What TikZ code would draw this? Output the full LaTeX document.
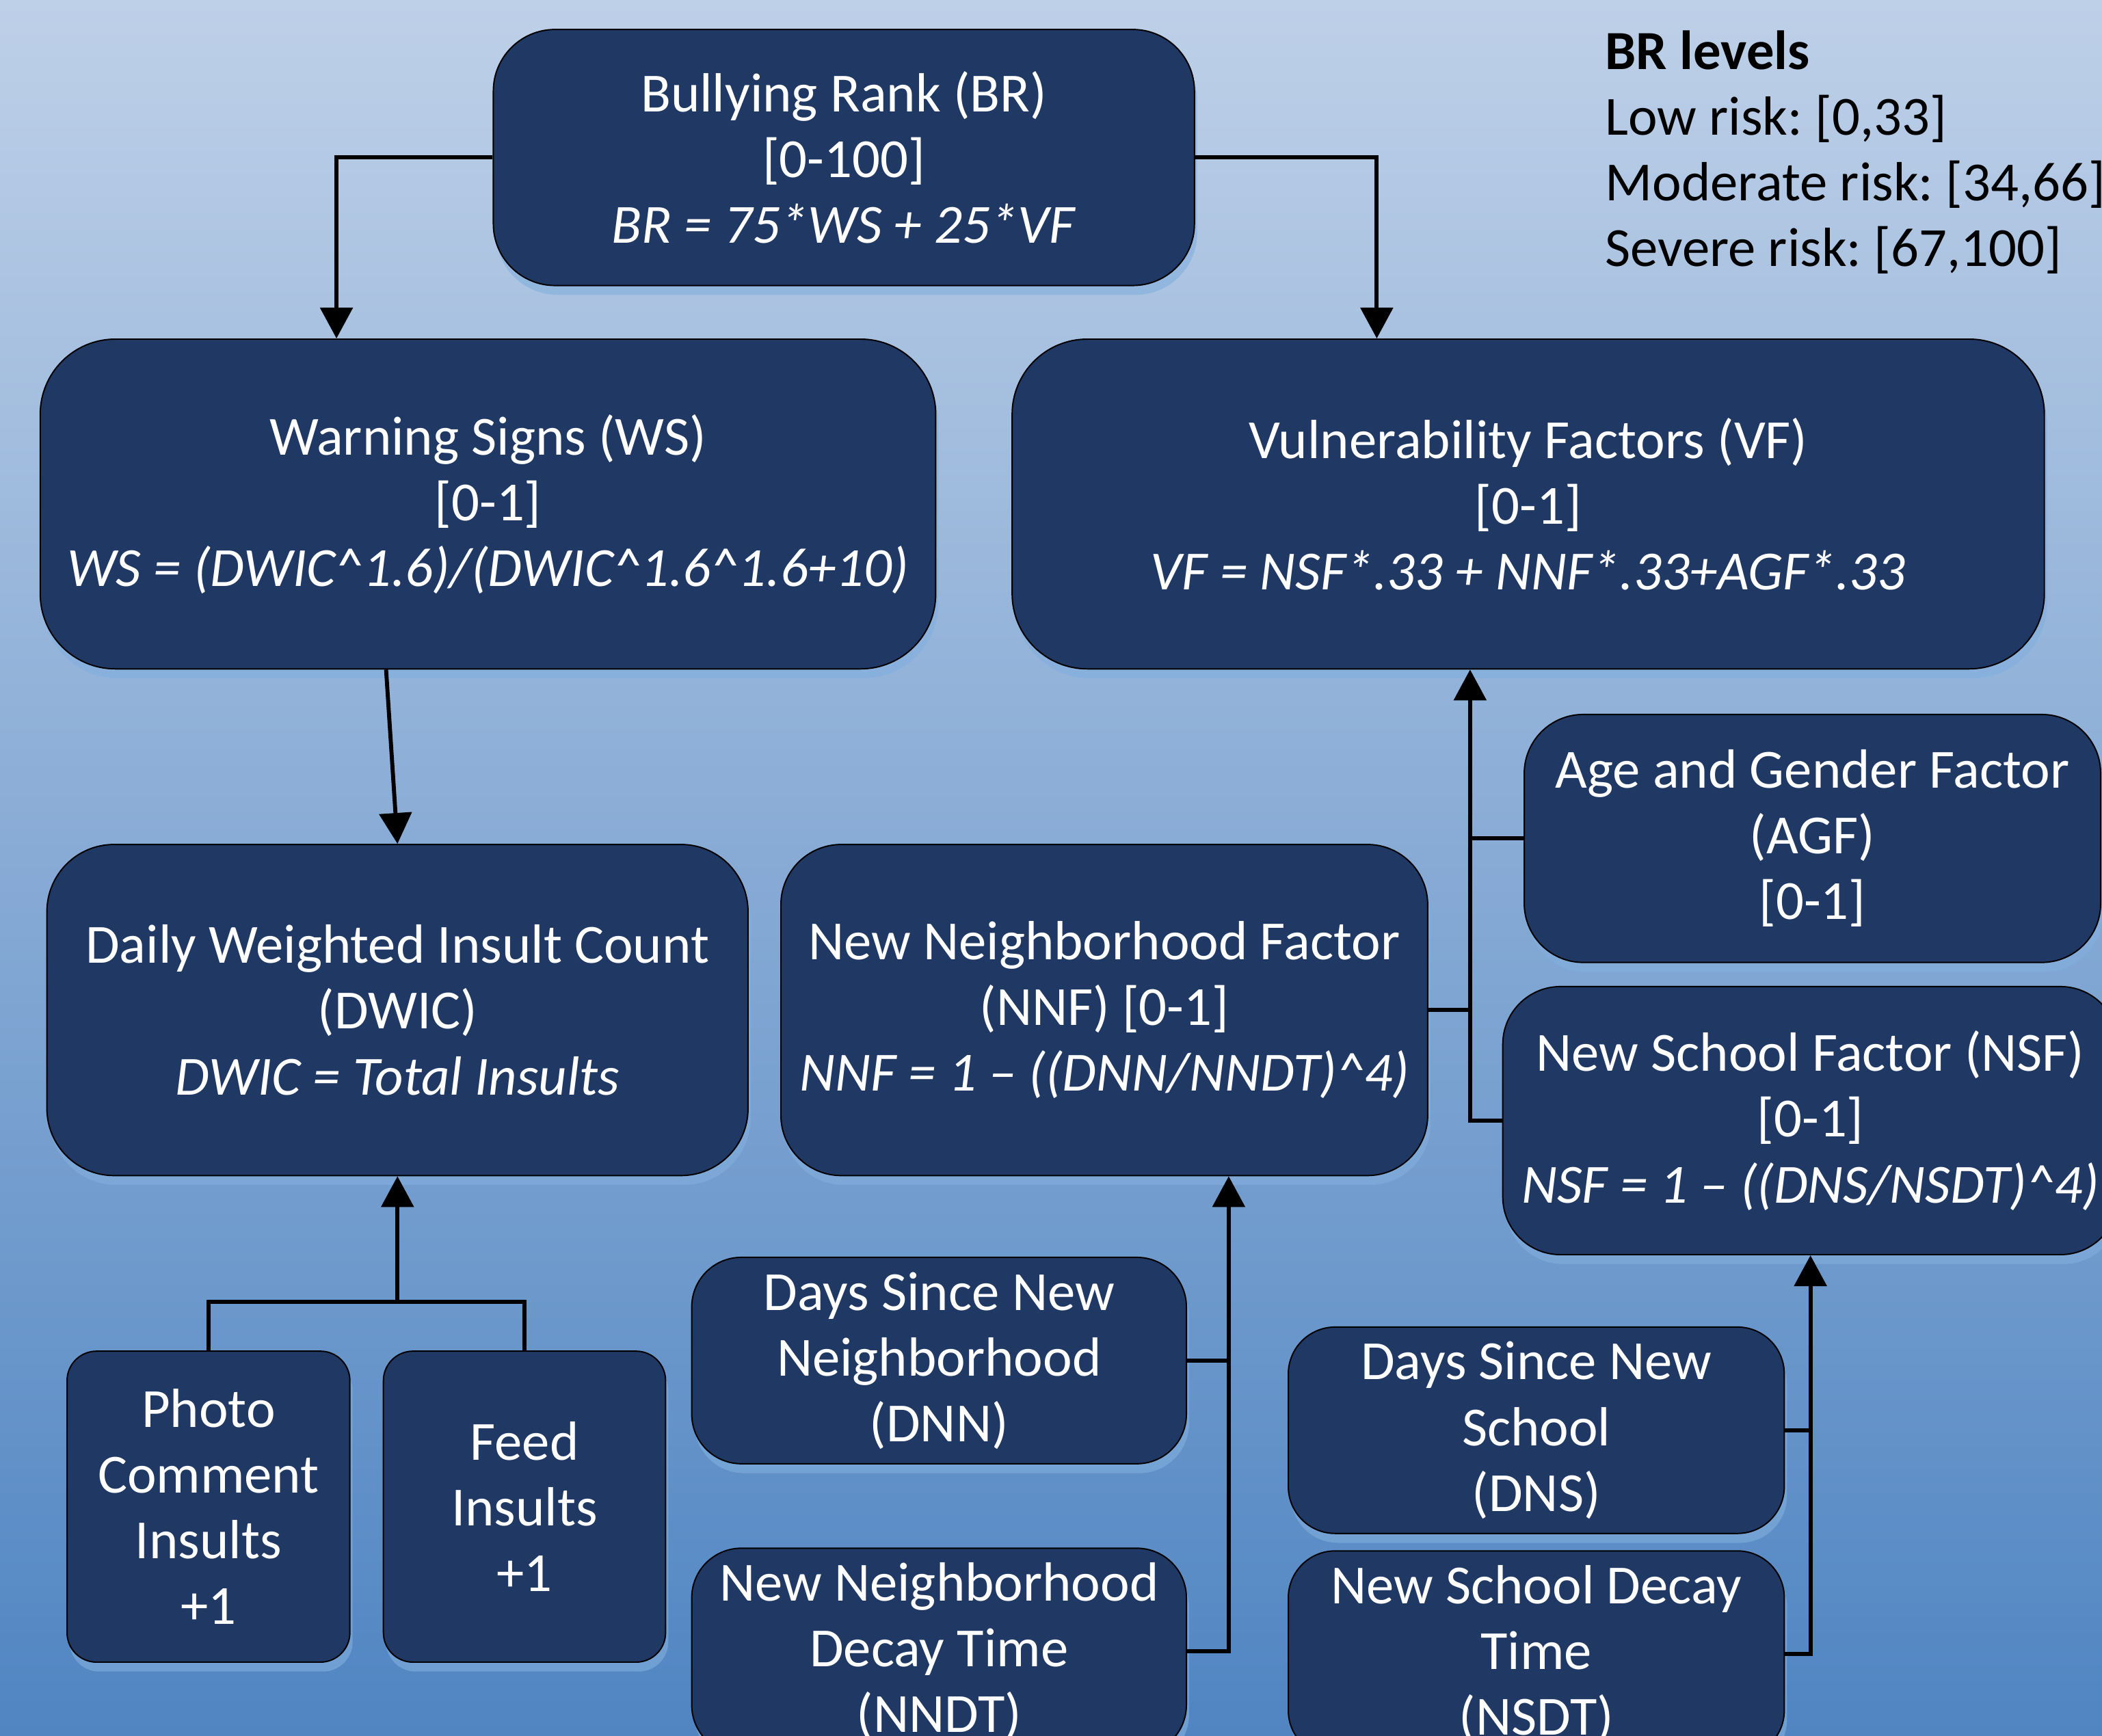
\documentclass[tikz,border=0pt]{standalone}
\usepackage{fontspec}
\setmainfont{Carlito}
\frenchspacing
\usetikzlibrary{arrows.meta,shadows}
\definecolor{boxfill}{RGB}{32,56,100}
\definecolor{bgtop}{RGB}{190,208,232}
\definecolor{bgbot}{RGB}{80,133,194}
\definecolor{shadowc}{RGB}{130,175,222}
\begin{document}
\begin{tikzpicture}[x=0.5pt,y=-0.5pt,
  box/.style={draw=black, line width=0.5pt, fill=boxfill, text=white,
    align=center, inner sep=0pt,
    font=\fontsize{20.6}{24.5}\selectfont,
    drop shadow={shadow xshift=1pt, shadow yshift=-3.5pt, fill=shadowc, opacity=0.6}},
  conn/.style={draw=black, line width=1.5pt},
  arr/.style={conn, -{Triangle[width=12pt,length=11.5pt]}},
  legend/.style={text=black, align=left, inner sep=0pt, anchor=west,
    font=\fontsize{20.6}{24.5}\selectfont}
]
\useasboundingbox (0,0) rectangle (1568,1294.6);
\clip (0,0) rectangle (1568,1294.6);
\shade[top color=bgtop, bottom color=bgbot] (0,0) rectangle (1568,1294.6);

% boxes
\node[box, minimum width=261.5pt, minimum height=95.5pt, rounded corners=23pt] (BR) at (629.5,117.5)
  {Bullying Rank (BR)\\ {[0-100]}\\ \textit{BR = 75*WS + 25*VF}};
\node[box, minimum width=334pt, minimum height=123pt, rounded corners=28pt] (WS) at (364,376)
  {Warning Signs (WS)\\ {[0-1]}\\ \textit{WS = (DWIC\textasciicircum 1.6)/(DWIC\textasciicircum 1.6\textasciicircum 1.6+10)}};
\node[box, minimum width=385pt, minimum height=123pt, rounded corners=28pt] (VF) at (1140,376)
  {Vulnerability Factors (VF)\\ {[0-1]}\\ \textit{VF = NSF*.33 + NNF*.33+AGF*.33}};
\node[box, minimum width=261.5pt, minimum height=123.5pt, rounded corners=25pt] (DWIC) at (296.5,753.5)
  {Daily Weighted Insult Count\\ (DWIC)\\ \textit{DWIC = Total Insults}};
\node[box, minimum width=241.25pt, minimum height=123.5pt, rounded corners=22.5pt] (NNF) at (823.75,753.5)
  {New Neighborhood Factor\\ (NNF) [0-1]\\ \textit{NNF = 1 – ((DNN/NNDT)\textasciicircum 4)}};
\node[box, minimum width=215pt, minimum height=92.5pt, rounded corners=22pt] (AGF) at (1352,625.5)
  {Age and Gender Factor\\ (AGF)\\ {[0-1]}};
\node[box, minimum width=229.5pt, minimum height=100pt, rounded corners=21.5pt] (NSF) at (1350.5,836)
  {New School Factor (NSF)\\ {[0-1]}\\ \textit{NSF = 1 – ((DNS/NSDT)\textasciicircum 4)}};
\node[box, minimum width=105.5pt, minimum height=116pt, rounded corners=11pt] (Photo) at (155.5,1124)
  {Photo\\ Comment\\ Insults\\ +1};
\node[box, minimum width=105.25pt, minimum height=116pt, rounded corners=11pt] (Feed) at (391.25,1124)
  {Feed\\ Insults\\ +1};
\node[box, minimum width=184.5pt, minimum height=77pt, rounded corners=18.5pt] (DNN) at (700.5,1015)
  {Days Since New\\ Neighborhood\\ (DNN)};
\node[box, minimum width=184.5pt, minimum height=77pt, rounded corners=18.5pt] (NNDT) at (700.5,1232)
  {New Neighborhood\\ Decay Time\\ (NNDT)};
\node[box, minimum width=185pt, minimum height=77pt, rounded corners=17.5pt] (DNS) at (1146,1067)
  {Days Since New\\ School\\ (DNS)};
\node[box, minimum width=185pt, minimum height=77pt, rounded corners=17.5pt] (NSDT) at (1146,1234)
  {New School Decay\\ Time\\ (NSDT)};

% legend
\node[legend] (lev) at (1197,113.5)
  {\textbf{BR levels}\\ Low risk: [0,33]\\ Moderate risk: [34,66]\\ Severe risk: [67,100]};

% connectors
\draw[arr] (BR.west) -| ([xshift=-56.5pt]WS.north);
\draw[arr] (BR.east) -| ([xshift=-56.5pt]VF.north);
\draw[arr] ([xshift=-38pt]WS.south) -- (DWIC.north);

\coordinate (j1) at (296.5,971);
\draw[conn] (Photo.north) |- (j1) -| (Feed.north);
\draw[arr] (j1) -- (DWIC.south);

\coordinate (nnfin) at ([xshift=46.4pt]NNF.south);
\draw[conn] (DNN.east) -- (DNN.east -| nnfin);
\draw[arr] (NNDT.east) -| (nnfin);

\draw[conn] (DNS.east) -- (DNS.east -| NSF.south);
\draw[arr] (NSDT.east) -| (NSF.south);

\coordinate (vfin) at ([xshift=-21.7pt]VF.south);
\draw[conn] (AGF.west) -- (AGF.west -| vfin);
\draw[conn] (NNF.east) -- (NNF.east -| vfin);
\draw[arr] (NSF.west) -| (vfin);
\end{tikzpicture}
\end{document}
